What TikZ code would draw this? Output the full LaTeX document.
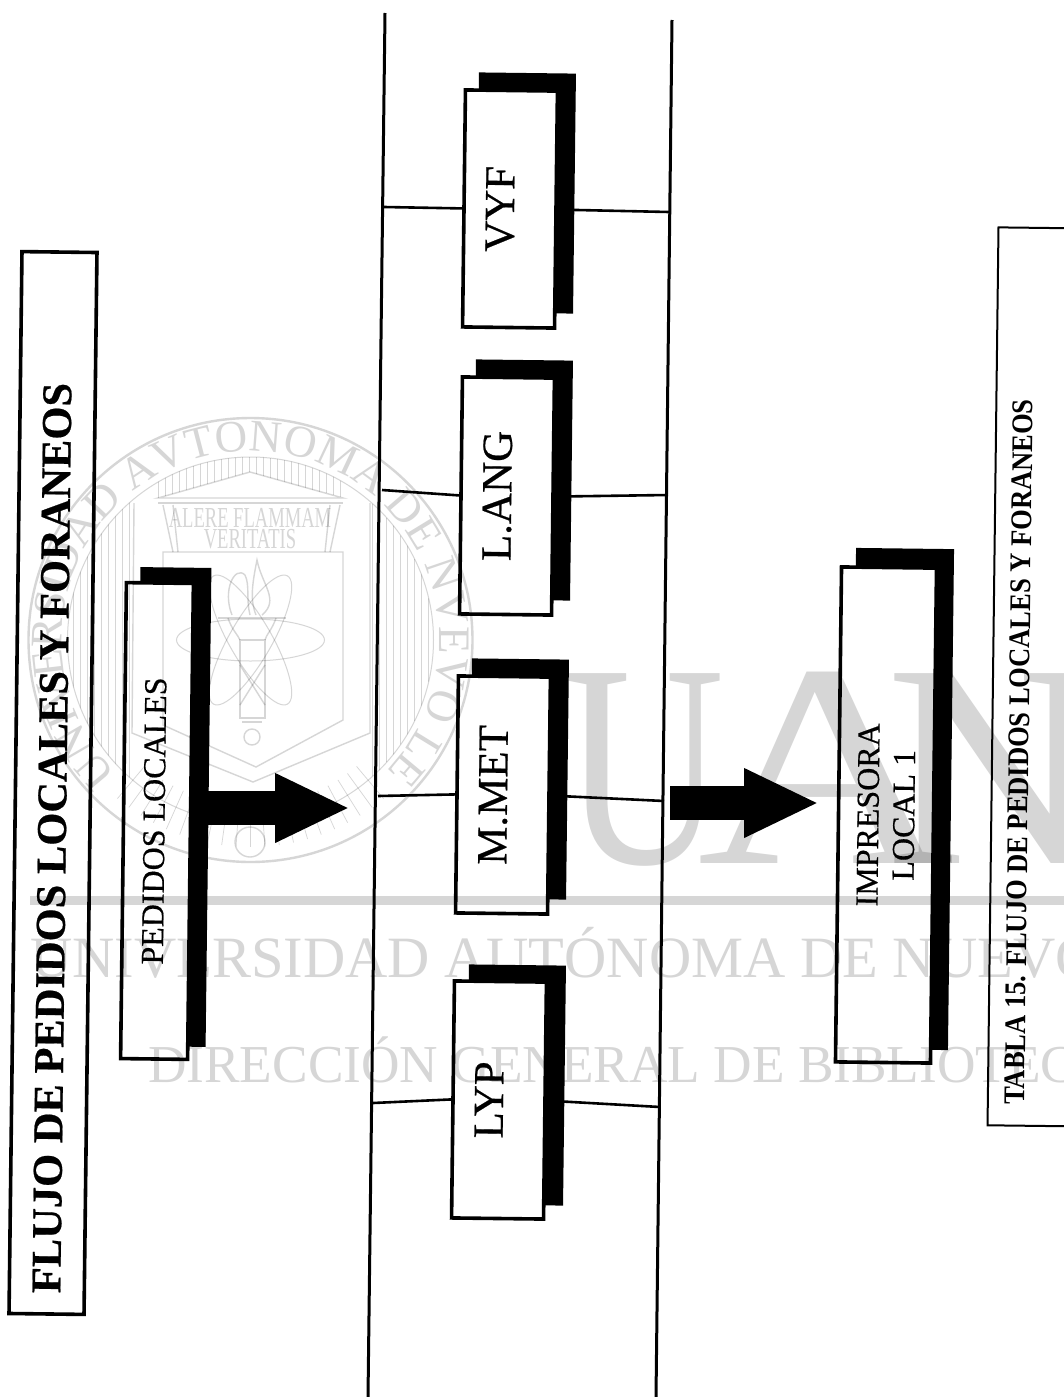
\documentclass[tikz,border=0pt]{standalone}
\usepackage{fontspec}
\setmainfont{Liberation Serif}
\usetikzlibrary{arrows.meta,decorations.text}
\newcommand{\fsz}[1]{\fontsize{#1}{1.12\dimexpr #1pt\relax}\selectfont}
\definecolor{wmgrey}{gray}{0.84}
\tikzset{
  boxnode/.style = {draw, fill = white, line width = 3.6pt, rotate = 89.3,
                    inner sep = 0pt, align = center, font = \fsz{32}\addfontfeature{FakeBold=.5}},
  shopnode/.style = {boxnode, minimum width = 237pt, minimum height = 92pt,
                     font = \fsz{43}\addfontfeature{FakeBold=.5}, text depth = 20pt},
  shadenode/.style = {fill = black, rotate = 89.3, inner sep = 0pt},
  labelnode/.style = {rotate = 89.3, inner sep = 0pt},
  wiring/.style = {line width = 2.6pt},
  blockarrow/.style = {line width = 34pt, -{Triangle[length = 75pt, width = 64pt]}},
  seal/.style = {wmgrey, line width = 1.4pt},
  hatching/.style = {wmgrey, line width = .7pt},
  wmark/.style = {wmgrey, inner sep = 0pt, anchor = base west}
}
\begin{document}
\begin{tikzpicture}[x = 1pt, y = -1pt]
  \fill [white] (0,0) rectangle (1064,1397);
  \useasboundingbox (0,0) rectangle (1064,1397);
  \clip (0,0) rectangle (1064,1397);

  % rails
  \coordinate (lefttop) at (385,13);
  \coordinate (leftbot) at (368,1397);
  \coordinate (righttop) at (672,20);
  \coordinate (rightbot) at (656,1397);
  \draw [wiring, line width = 3pt] (lefttop) -- (leftbot);
  \draw [wiring, line width = 3pt] (righttop) -- (rightbot);

  % shadows
  \node (vyfshade) [shadenode, minimum width = 240pt, minimum height = 97pt] at (526,193) {};
  \node (langshade) [shadenode, minimum width = 240pt, minimum height = 97pt] at (523,480) {};
  \node (metshade) [shadenode, minimum width = 240pt, minimum height = 97pt] at (519,779) {};
  \node (lypshade) [shadenode, minimum width = 240pt, minimum height = 97pt] at (516,1085) {};
  \node (pedshade) [shadenode, minimum width = 479pt, minimum height = 71pt] at (173,807) {};
  \node (impshade) [shadenode, minimum width = 501pt, minimum height = 98pt] at (902,799) {};

  % boxes
  \node (title) [boxnode, minimum width = 1062pt, minimum height = 75pt] at (53,783) {};
  \node (titletext) [labelnode, font = \fsz{42.5}\bfseries\addfontfeature{FakeBold=.5}] at (52,838) {FLUJO DE PEDIDOS LOCALES Y FORANEOS};
  \node (ped) [boxnode, minimum width = 476pt, minimum height = 67pt, text depth = 6pt] at (157,821) {PEDIDOS LOCALES};
  \node (vyf) [shopnode] at (510,209) {VYF};
  \node (lang) [shopnode] at (507,496) {L.ANG};
  \node (met) [shopnode] at (503,795) {M.MET};
  \node (lyp) [shopnode] at (499,1100) {LYP};
  \node (imp) [boxnode, minimum width = 495pt, minimum height = 95pt] at (886,815) {IMPRESORA\\LOCAL 1};
  \node (tab) [boxnode, line width = 2pt, minimum width = 898pt, minimum height = 110pt] at (1048,677) {};
  \node (tabtext) [labelnode, font = \fsz{30}\bfseries, xscale = .883] at (1019,752) {TABLA 15. FLUJO DE PEDIDOS LOCALES Y FORANEOS};

  % wiring
  \coordinate (vyfl) at (384,207);
  \coordinate (vyfr) at (669,212);
  \coordinate (langl) at (382,490);
  \coordinate (langr) at (668,495);
  \coordinate (metl) at (378,796);
  \coordinate (metr) at (664,801);
  \coordinate (lypl) at (373,1103);
  \coordinate (lypr) at (660,1107);
  \draw [wiring] (vyfl) -- (vyf.north);
  \draw [wiring] (vyf.south) -- (vyfr);
  \draw [wiring] (langl) -- (lang.north);
  \draw [wiring] (lang.south) -- (langr);
  \draw [wiring] (metl) -- (met.north);
  \draw [wiring] (met.south) -- (metr);
  \draw [wiring] (lypl) -- (lyp.north);
  \draw [wiring] (lyp.south) -- (lypr);

  % block arrows
  \coordinate (pedout) at (208,808);
  \coordinate (pedtip) at (350,808);
  \coordinate (railout) at (670,803);
  \coordinate (imptip) at (819,803);
  \draw [blockarrow] (pedout) -- (pedtip);
  \draw [blockarrow] (railout) -- (imptip);

  % watermark
  \begin{scope}[blend mode = multiply]
    \node (wmu) [wmark, font = \fsz{290}, xscale = .77] at (563,863) {U};
    \node (wma) [wmark, font = \fsz{290}, xscale = 1.23] at (697,863) {A};
    \node (wmn) [wmark, font = \fsz{290}, xscale = 1.0] at (886,863) {N};
    \fill [wmgrey] (30,896) rectangle (1064,905);
    \node (wmuni) [wmark, font = \fsz{58.5}] at (30,977) {UNIVERSIDAD AUTÓNOMA DE NUEVO};
    \node (wmdir) [wmark, font = \fsz{53.3}] at (148,1082) {DIRECCIÓN GENERAL DE BIBLIOTECAS};

    \draw [seal, line width = 2.4pt] (250.5,640) circle (222pt);
    \draw [seal, line width = 1pt] (250.5,640) circle (183pt);
    \begin{scope}[shift = {(250.5,640)}, x = 1pt, y = 1pt]
      \path [decorate, decoration = {text along path, text align = {fit to path},
        text color = wmgrey,
        text = {|\fsz{45}|UNIVERSIDAD AVTONOMA DE NVEVO LEON}}]
        (225:189pt) arc [start angle = 225, end angle = -45, radius = 189pt];
      \foreach \ang in {50,54,...,130}
        \draw [hatching] (-\ang:165pt) -- (-\ang:207pt);
      \draw [seal, line width = 1pt] (0,0) [rotate = 0] ellipse (74pt and 21pt);
      \draw [seal, line width = 1pt] (0,0) [rotate = 60] ellipse (74pt and 21pt);
      \draw [seal, line width = 1pt] (0,0) [rotate = -60] ellipse (74pt and 21pt);
    \end{scope}
    \begin{scope}
      \clip (250.5,640) circle (183pt);
      \foreach \xx in {66,73,...,130}
        \draw [hatching] (\xx,500) -- (\xx,780);
      \foreach \xx in {372,379,...,436}
        \draw [hatching] (\xx,500) -- (\xx,780);
      \foreach \xx in {158,165,...,343} {
        \pgfmathsetmacro{\yy}{472+26*abs(\xx-250)/92}
        \draw [hatching] (\xx,450) -- (\xx,\yy);
      }
    \end{scope}
    % temple and shield
    \draw [seal] (158,498) -- (250,472) -- (343,498) -- cycle;
    \draw [seal] (158,503) -- (343,503);
    \draw [seal] (134,503) -- (132,733) -- (253,782) -- (370,733) -- (370,503);
    \draw [seal] (163,552) -- (343,552) -- (343,720) -- (256,767) -- (163,725) -- cycle;
    \draw [seal] (163,505) -- (173,552);
    \draw [seal] (173,505) -- (178,552);
    \draw [seal] (340,505) -- (330,552);
    \draw [seal] (330,505) -- (325,552);
    \node (wmal) [wmark, anchor = base, font = \fsz{29}, xscale = .64] at (250,527) {ALERE FLAMMAM};
    \node (wmve) [wmark, anchor = base, font = \fsz{29}, xscale = .64] at (250,548) {VERITATIS};
    % torch
    \draw [seal] (218,618) -- (286,618);
    \draw [seal] (228,618) .. controls (232,630) and (238,635) .. (240,640);
    \draw [seal] (276,618) .. controls (272,630) and (266,635) .. (265,640);
    \draw [seal] (240,640) rectangle (265,718);
    \draw [seal] (240,665) -- (265,705);
    \draw [seal] (265,665) -- (240,705);
    \draw [seal] (252,737) circle (8pt);
    \draw [seal] (242,722) -- (262,722);
    \draw [seal] (232,615) .. controls (222,590) and (235,565) .. (245,575) .. controls (250,585) and (246,600) .. (250,615);
    \draw [seal] (262,615) .. controls (280,600) and (262,585) .. (257,560) .. controls (252,585) and (250,600) .. (256,615);
    \draw [seal] (250,842) circle (15pt);
  \end{scope}
\end{tikzpicture}
\end{document}
